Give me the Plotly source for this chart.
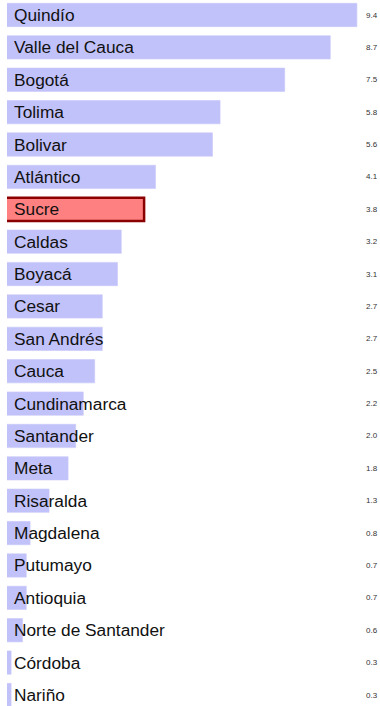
import plotly.graph_objects as go

# Departments ranked by value, top to bottom
departments = [
    "Quindío", "Valle del Cauca", "Bogotá", "Tolima", "Bolivar", "Atlántico",
    "Sucre", "Caldas", "Boyacá", "Cesar", "San Andrés", "Cauca",
    "Cundinamarca", "Santander", "Meta", "Risaralda", "Magdalena",
    "Putumayo", "Antioquia", "Norte de Santander", "Córdoba", "Nariño",
]
values = [9.4, 8.7, 7.5, 5.8, 5.6, 4.1, 3.8, 3.2, 3.1, 2.7, 2.7, 2.5,
          2.2, 2.0, 1.8, 1.3, 0.8, 0.7, 0.7, 0.6, 0.3, 0.3]
value_labels = ["9.4", "8.7", "7.5", "5.8", "5.6", "4.1", "3.8", "3.2", "3.1",
                "2.7", "2.7", "2.5", "2.2", "2.0", "1.8", "1.3", "0.8", "0.7",
                "0.7", "0.6", "0.3", "0.3"]
highlight = "Sucre"

W, H = 380, 706
LEFT = 7  # plot area starts a few pixels in from the page edge
base_fill = "#c2c2fa"
hi_fill = "#ff8080"
hi_line = "#8b0000"

fills = [hi_fill if d == highlight else base_fill for d in departments]
line_colors = [hi_line if d == highlight else "rgba(200,200,250,0.6)" for d in departments]
line_widths = [2.5 if d == highlight else 1 for d in departments]

fig = go.Figure(
    go.Bar(
        x=values,
        y=departments,
        orientation="h",
        marker=dict(color=fills, line=dict(color=line_colors, width=line_widths)),
        hoverinfo="skip",
    )
)

annotations = []
for d, lab in zip(departments, value_labels):
    # department name, left-aligned near the start of the plot area
    annotations.append(dict(
        x=0, y=d, xref="paper", yref="y", text=d, showarrow=False,
        xanchor="left", yanchor="middle", xshift=5,
        font=dict(family="Liberation Sans, Arial, sans-serif", size=17.3, color="#111111"),
    ))
    # value label at the right edge
    annotations.append(dict(
        x=1, y=d, xref="paper", yref="y", text=lab, showarrow=False,
        xanchor="right", yanchor="middle", xshift=0,
        font=dict(family="Liberation Sans, Arial, sans-serif", size=8, color="#333333"),
    ))

n = len(departments)
px_per_row = 680 / (n - 1)
y_top = -15 / px_per_row
y_bottom = y_top + H / px_per_row

# horizontal scale: zero sits just left of the page edge, bars clipped at LEFT
px_per_unit = 38.0
zero_px = -0.3
x_left = (LEFT - zero_px) / px_per_unit
x_right = x_left + (W - LEFT) / px_per_unit

fig.update_layout(
    width=W, height=H,
    margin=dict(l=LEFT, r=0, t=0, b=0),
    paper_bgcolor="white", plot_bgcolor="white",
    bargap=0.28,
    showlegend=False,
    xaxis=dict(range=[x_left, x_right], visible=False, fixedrange=True),
    yaxis=dict(range=[y_bottom, y_top], visible=False, fixedrange=True,
               categoryorder="array", categoryarray=departments),
    annotations=annotations,
)

fig.write_html("out.html", config={"displayModeBar": False})
